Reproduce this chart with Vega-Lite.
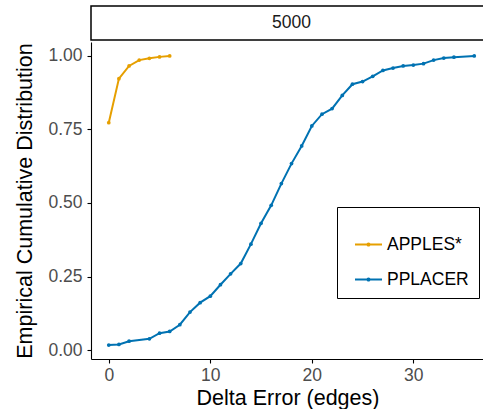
{
  "$schema": "https://vega.github.io/schema/vega-lite/v6.json",
  "background": "white",
  "padding": {"left": 14, "top": 5, "right": 0, "bottom": 0},
  "spacing": 1,
  "config": {
    "font": "Liberation Sans",
    "axis": {
      "domainColor": "black",
      "domainWidth": 1.1,
      "tickColor": "black",
      "tickWidth": 1.1,
      "tickSize": 4,
      "labelColor": "#4D4D4D",
      "labelFontSize": 17.5,
      "labelFont": "Liberation Sans",
      "labelPadding": 4,
      "titleColor": "black",
      "titleFont": "Liberation Sans",
      "titleFontSize": 21.5,
      "titleFontWeight": "normal",
      "grid": false
    },
    "legend": {
      "labelFont": "Liberation Sans",
      "labelFontSize": 17.5,
      "labelColor": "black",
      "titleFontSize": 12
    }
  },
  "vconcat": [
    {
      "width": 393,
      "height": 34,
      "view": {"stroke": "black", "strokeWidth": 1.5, "fill": "white"},
      "data": {"values": [{"panel": "5000"}]},
      "mark": {"type": "text", "fontSize": 17.5, "color": "#1A1A1A", "dx": 4, "baseline": "middle", "font": "Liberation Sans"},
      "encoding": {"text": {"field": "panel"}}
    },
    {
      "width": 393,
      "height": 317,
      "view": {"stroke": null},
      "data": {
        "values": [
          {"method": "APPLES*", "delta": 0, "ecdf": 0.773},
          {"method": "APPLES*", "delta": 1, "ecdf": 0.923},
          {"method": "APPLES*", "delta": 2, "ecdf": 0.966},
          {"method": "APPLES*", "delta": 3, "ecdf": 0.986},
          {"method": "APPLES*", "delta": 4, "ecdf": 0.992},
          {"method": "APPLES*", "delta": 5, "ecdf": 0.997},
          {"method": "APPLES*", "delta": 6, "ecdf": 1.0},
          {"method": "PPLACER", "delta": 0, "ecdf": 0.017},
          {"method": "PPLACER", "delta": 1, "ecdf": 0.019},
          {"method": "PPLACER", "delta": 2, "ecdf": 0.03},
          {"method": "PPLACER", "delta": 4, "ecdf": 0.038},
          {"method": "PPLACER", "delta": 5, "ecdf": 0.057},
          {"method": "PPLACER", "delta": 6, "ecdf": 0.063},
          {"method": "PPLACER", "delta": 7, "ecdf": 0.086},
          {"method": "PPLACER", "delta": 8, "ecdf": 0.129},
          {"method": "PPLACER", "delta": 9, "ecdf": 0.161},
          {"method": "PPLACER", "delta": 10, "ecdf": 0.183},
          {"method": "PPLACER", "delta": 11, "ecdf": 0.222},
          {"method": "PPLACER", "delta": 12, "ecdf": 0.259},
          {"method": "PPLACER", "delta": 13, "ecdf": 0.294},
          {"method": "PPLACER", "delta": 14, "ecdf": 0.36},
          {"method": "PPLACER", "delta": 15, "ecdf": 0.431},
          {"method": "PPLACER", "delta": 16, "ecdf": 0.492},
          {"method": "PPLACER", "delta": 17, "ecdf": 0.566},
          {"method": "PPLACER", "delta": 18, "ecdf": 0.634},
          {"method": "PPLACER", "delta": 19, "ecdf": 0.694},
          {"method": "PPLACER", "delta": 20, "ecdf": 0.762},
          {"method": "PPLACER", "delta": 21, "ecdf": 0.802},
          {"method": "PPLACER", "delta": 22, "ecdf": 0.821},
          {"method": "PPLACER", "delta": 23, "ecdf": 0.866},
          {"method": "PPLACER", "delta": 24, "ecdf": 0.904},
          {"method": "PPLACER", "delta": 25, "ecdf": 0.913},
          {"method": "PPLACER", "delta": 26, "ecdf": 0.931},
          {"method": "PPLACER", "delta": 27, "ecdf": 0.951},
          {"method": "PPLACER", "delta": 28, "ecdf": 0.959},
          {"method": "PPLACER", "delta": 29, "ecdf": 0.966},
          {"method": "PPLACER", "delta": 30, "ecdf": 0.969},
          {"method": "PPLACER", "delta": 31, "ecdf": 0.974},
          {"method": "PPLACER", "delta": 32, "ecdf": 0.986},
          {"method": "PPLACER", "delta": 33, "ecdf": 0.993},
          {"method": "PPLACER", "delta": 34, "ecdf": 0.996},
          {"method": "PPLACER", "delta": 36, "ecdf": 1.0}
        ]
      },
      "mark": {"type": "line", "strokeWidth": 2, "point": {"filled": true, "size": 14}},
      "encoding": {
        "x": {
          "field": "delta",
          "type": "quantitative",
          "scale": {"domain": [-1.75, 36.96], "nice": false, "zero": false},
          "axis": {"values": [0, 10, 20, 30], "title": "Delta Error (edges)", "titlePadding": 4, "labelPadding": 3}
        },
        "y": {
          "field": "ecdf",
          "type": "quantitative",
          "scale": {"domain": [-0.0306, 1.0476], "nice": false, "zero": false},
          "axis": {"values": [0, 0.25, 0.5, 0.75, 1], "format": ".2f", "title": "Empirical Cumulative Distribution", "titlePadding": 11, "labelPadding": 5}
        },
        "color": {
          "field": "method",
          "type": "nominal",
          "scale": {"domain": ["APPLES*", "PPLACER"], "range": ["#E69F00", "#0072B2"]},
          "legend": {
            "orient": "none",
            "legendX": 246,
            "legendY": 201,
            "title": " ",
            "titlePadding": 1,
            "padding": 10,
            "strokeColor": "black",
            "fillColor": "white",
            "symbolType": "M-1,0H1M-0.08,0A0.08,0.08,0,1,0,0.08,0A0.08,0.08,0,1,0,-0.08,0",
            "symbolSize": 729,
            "symbolStrokeWidth": 2,
            "symbolOffset": 7,
            "labelOffset": 4,
            "rowPadding": 12
          }
        }
      }
    }
  ]
}
